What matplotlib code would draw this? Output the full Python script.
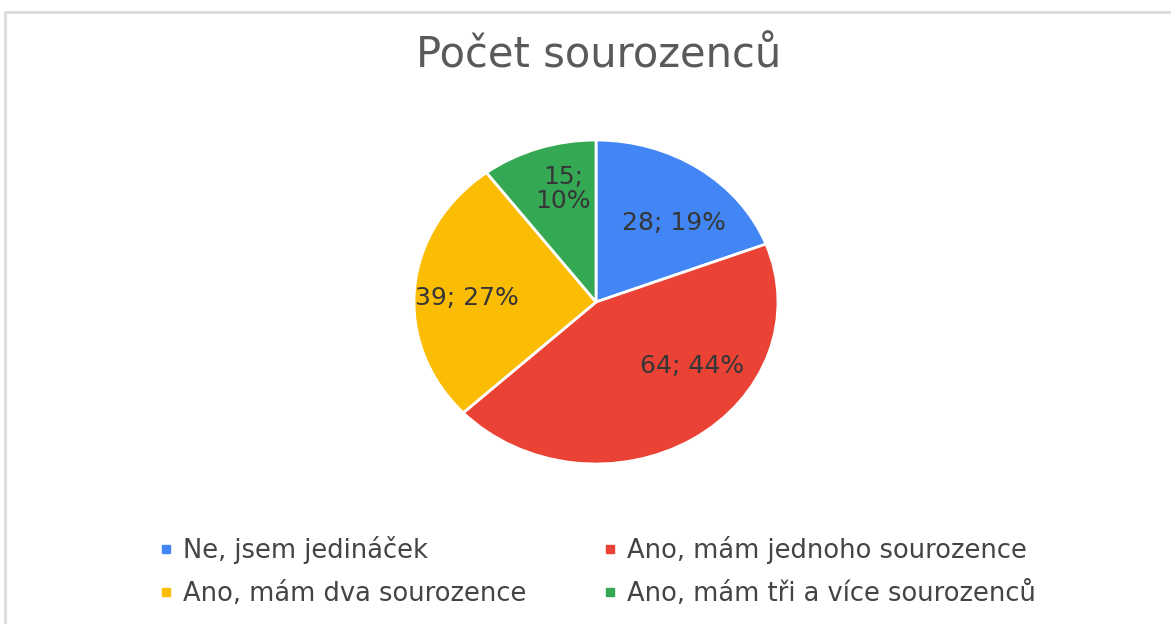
import numpy as np
import matplotlib.pyplot as plt
from matplotlib.lines import Line2D
from matplotlib.patches import Rectangle

# --- DATA ---
TITLE = "Počet sourozenců"
categories = ["Ne, jsem jedináček", "Ano, mám jednoho sourozence",
              "Ano, mám dva sourozence", "Ano, mám tři a více sourozenců"]
counts = [28, 64, 39, 15]
colors = ["#4285F4", "#EA4335", "#FBBC04", "#34A853"]

W, H = 1171, 624
plt.rcParams['font.family'] = ['DejaVu Sans']

fig = plt.figure(figsize=(W / 100, H / 100), dpi=100)
fig.patch.set_facecolor("white")

# light frame of the chart card (top and left edges visible)
fig.add_artist(Rectangle((5.5 / W, -0.1), 1.2, (H - 11.5) / H + 0.1,
                         transform=fig.transFigure, facecolor="none",
                         edgecolor="#dcdcdc", linewidth=2))

fig.text(599 / W, 1 - 56 / H, TITLE, ha="center", va="center",
         fontsize=30, color="#5a5a5a")

# pie is slightly stretched horizontally in the reference
cx, cy, rx, ry = 596, 302, 182, 162
ax = fig.add_axes([(cx - rx) / W, (H - cy - ry) / H, 2 * rx / W, 2 * ry / H])

total = sum(counts)


def label_for(v):
    pct = round(v / total * 100)
    sep = "\n" if pct < 15 else " "
    return f"{v};{sep}{pct}%"


wedges, texts = ax.pie(counts, colors=colors, startangle=90, counterclock=False,
                       labels=[label_for(v) for v in counts], labeldistance=0.7,
                       wedgeprops=dict(edgecolor="white", linewidth=2),
                       textprops=dict(fontsize=18, color="#363636",
                                      ha="center", va="center"))

# label placement tweaks (degrees, radius) to follow the Google Charts layout
angle_shift = [-7, 21, 3, -4]
label_r = [0.65, 0.66, 0.71, 0.72]
for w, t, sh, r in zip(wedges, texts, angle_shift, label_r):
    t.set_ha("center")
    t.set_va("center")
    t.set_linespacing(1.0)
    mid = np.deg2rad((w.theta1 + w.theta2) / 2 + sh)
    t.set_position((r * np.cos(mid), r * np.sin(mid)))
ax.set_aspect("auto")
ax.set_xlim(-1, 1)
ax.set_ylim(-1, 1)
ax.axis("off")

# legend: two columns, row-major order
handles = [Line2D([], [], marker="s", linestyle="none", markersize=5.5,
                  markerfacecolor=c, markeredgecolor=c) for c in colors]
col_x = [160, 604]
for i, x in enumerate(col_x):
    idx = [i, i + 2]
    leg = fig.legend([handles[j] for j in idx], [categories[j] for j in idx],
                     loc="upper left", bbox_to_anchor=(x / W, 1 - 536 / H),
                     frameon=False, fontsize=18.5, handlelength=0.5,
                     handletextpad=0.38, labelspacing=0.68, borderpad=0,
                     borderaxespad=0)
    for t in leg.get_texts():
        t.set_color("#444444")

fig.savefig("out.png", dpi=100, facecolor="white")
